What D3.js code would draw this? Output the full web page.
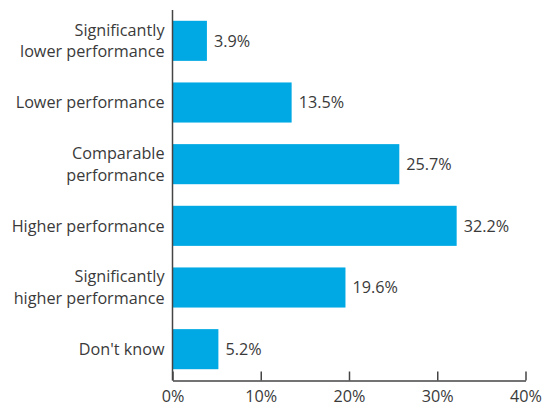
<!DOCTYPE html>
<html>
<head>
<meta charset="utf-8">
<script src="https://cdn.jsdelivr.net/npm/d3@7"></script>
<style>
  html, body { margin: 0; padding: 0; background: #fff; }
  svg { display: block; }
  text { font-family: "Open Sans", "Noto Sans", sans-serif; fill: #3a3a3a; }
</style>
</head>
<body>
<svg id="chart" width="559" height="409"></svg>
<script>
// Survey responses: expected performance
const categories = [
  ["Significantly", "lower performance"],
  ["Lower performance"],
  ["Comparable", "performance"],
  ["Higher performance"],
  ["Significantly", "higher performance"],
  ["Don't know"]
];
const values = [3.9, 13.5, 25.7, 32.2, 19.6, 5.2];
const tickValues = [0, 10, 20, 30, 40];

const barColor = "#00a9e3";
const axisColor = "#444";
const fontSize = 16.2;

const svg = d3.select("#chart");
const margin = { left: 172.5, right: 33.5, top: 10, bottom: 29 };
const W = 559, H = 409;

const x = d3.scaleLinear().domain([0, 40]).range([margin.left, W - margin.right]);
const y = d3.scaleBand()
  .domain(d3.range(categories.length))
  .range([margin.top, H - margin.bottom])
  .paddingInner(0.35)
  .paddingOuter(0.175);

// bars
svg.append("g").selectAll("rect")
  .data(values)
  .join("rect")
  .attr("x", x(0))
  .attr("y", (d, i) => y(i))
  .attr("width", d => x(d) - x(0))
  .attr("height", y.bandwidth())
  .attr("fill", barColor);

// value labels
svg.append("g").selectAll("text")
  .data(values)
  .join("text")
  .attr("x", d => x(d) + 7)
  .attr("y", (d, i) => y(i) + y.bandwidth() / 2)
  .attr("dy", "0.35em")
  .attr("font-size", fontSize)
  .text(d => d.toFixed(1) + "%");

// category labels
const lineH = 21.6;
const cat = svg.append("g").selectAll("text")
  .data(categories)
  .join("text")
  .attr("text-anchor", "end")
  .attr("font-size", fontSize)
  .attr("y", (d, i) => y(i) + y.bandwidth() / 2);
cat.selectAll("tspan")
  .data(d => d.map((t, j) => ({ t, j, n: d.length })))
  .join("tspan")
  .attr("x", margin.left - 8)
  .attr("dy", d => d.j === 0 ? ((0.35 * fontSize) - (d.n - 1) * lineH / 2) : lineH)
  .text(d => d.t);

// x axis with inward ticks
const axisY = H - margin.bottom + 0.5;
const xAxis = d3.axisBottom(x)
  .tickValues(tickValues)
  .tickFormat(d => d + "%")
  .tickSizeInner(-9)
  .tickSizeOuter(0)
  .tickPadding(10);
const gx = svg.append("g")
  .attr("transform", `translate(0,${axisY})`)
  .call(xAxis);
gx.select(".domain").attr("stroke", axisColor).attr("stroke-width", 1.5);
gx.selectAll(".tick line").attr("stroke", axisColor).attr("stroke-width", 1.5);
gx.selectAll(".tick text")
  .attr("font-family", null)
  .attr("font-size", fontSize)
  .attr("fill", "#3a3a3a");

// y axis line
svg.append("line")
  .attr("x1", x(0)).attr("x2", x(0))
  .attr("y1", margin.top).attr("y2", axisY)
  .attr("stroke", axisColor)
  .attr("stroke-width", 1.5);
</script>
</body>
</html>
